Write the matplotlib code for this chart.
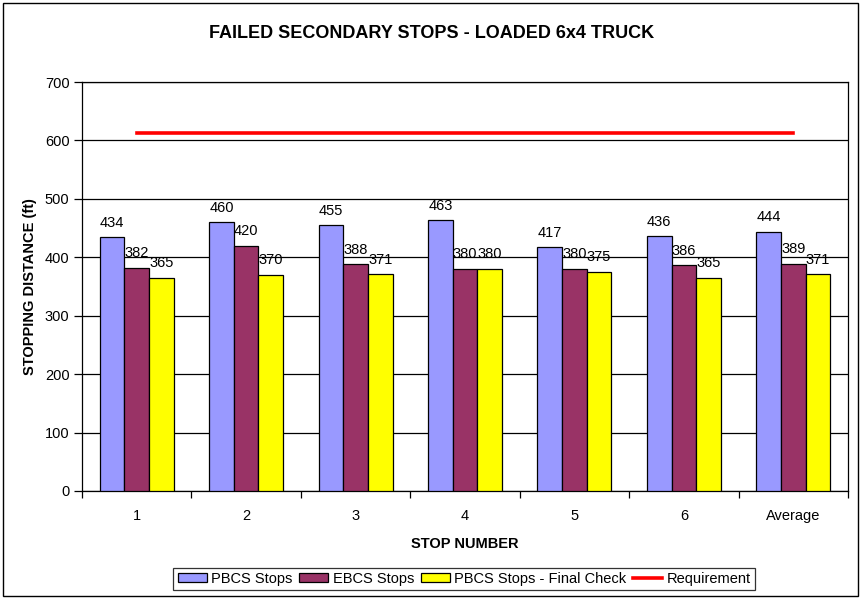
import numpy as np
import matplotlib.pyplot as plt
from matplotlib.patches import Rectangle

plt.rcParams['font.family'] = ['Liberation Sans', 'DejaVu Sans']

# chart data
categories = ['1', '2', '3', '4', '5', '6', 'Average']
pbcs = [434, 460, 455, 463, 417, 436, 444]
ebcs = [382, 420, 388, 380, 380, 386, 389]
final_check = [365, 370, 371, 380, 375, 365, 371]
requirement = [612, 612, 612, 612, 612, 612, 612]

series_names = ['PBCS Stops', 'EBCS Stops', 'PBCS Stops - Final Check']
colors = ['#9999FF', '#993366', '#FFFF00']

fig = plt.figure(figsize=(8.64, 6.0), dpi=100)
ax = fig.add_axes([82 / 864, 1 - 491 / 600, 766 / 864, 409 / 600])

x = np.arange(len(categories))
bw = 0.225
for i, (vals, c, name) in enumerate(zip([pbcs, ebcs, final_check], colors, series_names)):
    pos = x + (i - 1) * bw
    ax.bar(pos, vals, width=bw, color=c, edgecolor='black', linewidth=0.9,
           label=name, zorder=3)
    for p, v in zip(pos, vals):
        ax.text(p, v + 13, str(v), ha='center', va='bottom', fontsize=10.5, zorder=4)

ax.plot(x, requirement, color='#FF0000', linewidth=2.6, label='Requirement', zorder=4)

ax.set_xlim(-0.5, len(categories) - 0.5)
ax.set_ylim(0, 700)
ax.set_yticks(range(0, 701, 100))
ax.yaxis.grid(True, color='black', linewidth=0.9, zorder=0)
ax.set_xticks(x)
ax.set_xticklabels(categories, fontsize=10.5)
ax.set_xticks(np.arange(-0.5, len(categories)), minor=True)
ax.tick_params(axis='x', which='major', length=0, pad=13)
ax.tick_params(axis='x', which='minor', length=5, direction='out', width=0.9)
ax.tick_params(axis='y', length=6, width=0.9, labelsize=10.5, pad=3)
for s in ax.spines.values():
    s.set_linewidth(0.9)

ax.set_xlabel('STOP NUMBER', fontsize=10.5, fontweight='bold', labelpad=10)
ax.set_ylabel('STOPPING DISTANCE (ft)', fontsize=10.5, fontweight='bold', labelpad=6)
fig.text(432 / 864, 1 - 33 / 600, 'FAILED SECONDARY STOPS - LOADED 6x4 TRUCK',
         ha='center', va='center', fontsize=13, fontweight='bold')

handles, labels = ax.get_legend_handles_labels()
order = [1, 2, 3, 0]
leg = fig.legend([handles[k] for k in order], [labels[k] for k in order],
                 loc='center', bbox_to_anchor=(464 / 864, 1 - 579 / 600),
                 ncol=4, frameon=True, fancybox=False, edgecolor='black', fontsize=10.5,
                 handlelength=2.0, handleheight=0.6, handletextpad=0.3, columnspacing=0.45,
                 borderpad=0.3, borderaxespad=0)
leg.get_frame().set_linewidth(0.9)

fig.patches.append(Rectangle((3 / 864, 4 / 600), 855 / 864, 593 / 600, transform=fig.transFigure,
                             fill=False, edgecolor='black', linewidth=1.0))

fig.savefig('out.png', dpi=100)
